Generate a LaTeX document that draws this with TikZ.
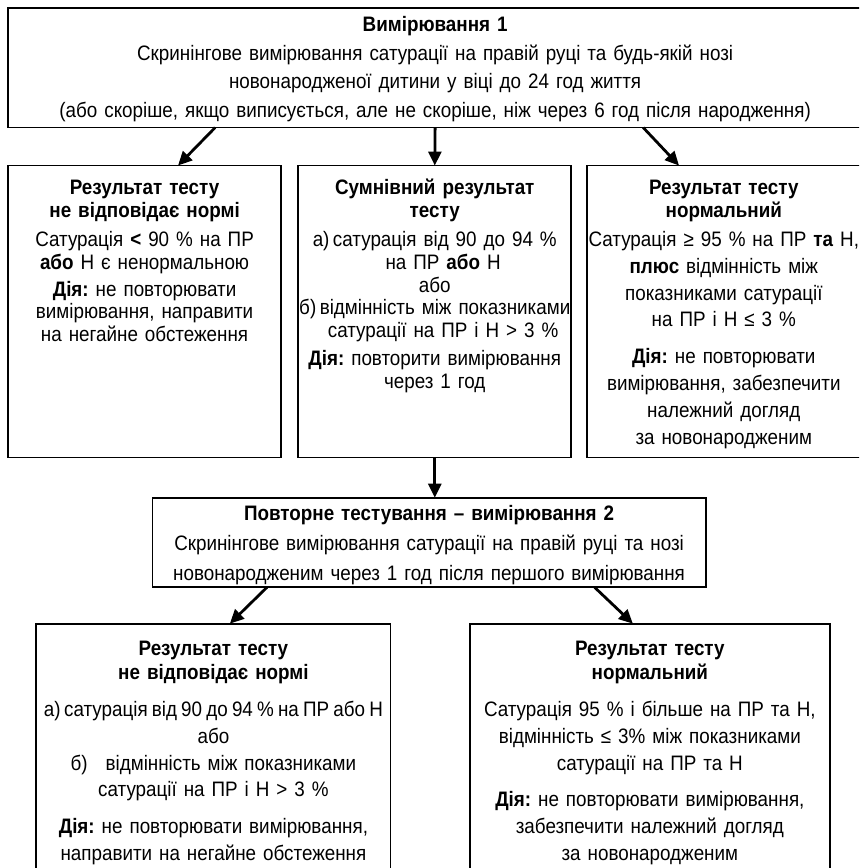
\documentclass[tikz,border=0pt]{standalone}
\usepackage{fontspec}
\setmainfont[FakeStretch=0.90]{Liberation Sans}
\frenchspacing
\usetikzlibrary{arrows.meta, positioning, calc}

\begin{document}
\begin{tikzpicture}[>={Triangle[length=7pt,width=6.5pt]},
    panel/.style={draw, line width=0.9pt, align=center, inner xsep=-5pt, inner ysep=0pt, outer sep=0pt},
    widebox/.style={panel, text width=15.42cm, text height=12pt, text depth=48pt,
                    font=\fontsize{10.5}{14.25}\selectfont},
    rowbox/.style={panel, text width=5.17cm, text height=14.5pt, text depth=132pt,
                   font=\fontsize{10.5}{11.5}\selectfont},
    midbox/.style={panel, text width=10.11cm, text height=11.5pt, text depth=33.5pt,
                   font=\fontsize{10.5}{15}\selectfont},
    lowbox/.style={panel, text height=16pt, text depth=125pt,
                   font=\fontsize{10.5}{13.5}\selectfont},
    link/.style={->, line width=1.4pt}]
  \useasboundingbox (0,0) rectangle (15.152,-15.311);
  \clip (0,0) rectangle (15.152,-15.311);

  % First measurement
  \node[widebox, anchor=north west] (meas1) at (0.141,-0.141)
    {\textbf{Вимірювання 1}\\
     Скринінгове вимірювання сатурації на правій руці та будь-якій нозі\\
     новонародженої дитини у віці до 24 год життя\\
     (або скоріше, якщо виписується, але не скоріше, ніж через 6 год після народження)};

  % Three outcomes
  \node[rowbox, below right=0.67cm and 0cm of meas1.south west] (resA)
    {\textbf{Результат тесту}\\
     \textbf{не відповідає нормі}\\[3pt]
     Сатурація \textbf{<} 90 \% на ПР\\
     \textbf{або} Н є ненормальною\\[2pt]
     \textbf{Дія:} не повторювати\\
     вимірювання, направити\\
     на негайне обстеження};
  \node[rowbox, right=0.3cm of resA] (resB)
    {\textbf{Сумнівний результат}\\
     \textbf{тесту}\\[3pt]
     а)\,сатурація від 90 до 94 \%\\
     \hspace*{0.8em}на ПР \textbf{або} Н\\
     або\\
     б)\,відмінність між показниками\\
     \hspace*{0.8em}сатурації на ПР і Н > 3 \%\\[2.5pt]
     \textbf{Дія:} повторити вимірювання\\
     через 1 год};
  \node[rowbox, right=0.28cm of resB, font=\fontsize{10.5}{13.5}\selectfont] (resC)
    {\textbf{Результат тесту}\\[-2pt]
     \textbf{нормальний}\\[1pt]
     Сатурація ≥ 95 \% на ПР \textbf{та} Н,\\
     \textbf{плюс} відмінність між\\
     показниками сатурації\\
     на ПР і Н ≤ 3 \%\\[5pt]
     \textbf{Дія:} не повторювати\\
     вимірювання, забезпечити\\
     належний догляд\\
     за новонародженим};

  % Second measurement
  \node[midbox, below=0.71cm of resB, xshift=-0.1cm] (meas2)
    {\textbf{Повторне тестування – вимірювання 2}\\
     Скринінгове вимірювання сатурації на правій руці та нозі\\
     новонародженим через 1 год після першого вимірювання};

  % Two outcomes
  \node[lowbox, text width=6.60cm, below left=0.64cm and 0.68cm of meas2.south] (resE)
    {\textbf{Результат тесту}\\[-1.5pt]
     \textbf{не відповідає нормі}\\[5pt]
     {\spaceskip=0.8\fontdimen2\font а)\,сатурація від 90 до 94 \% на ПР або Н}\\
     або\\
     б)\hspace{9pt}відмінність між показниками\\
     сатурації на ПР і Н > 3 \%\\[5pt]
     \textbf{Дія:} не повторювати вимірювання,\\
     направити на негайне обстеження};
  \node[lowbox, text width=6.70cm, below right=0.64cm and 0.72cm of meas2.south] (resF)
    {\textbf{Результат тесту}\\[-1.5pt]
     \textbf{нормальний}\\[5pt]
     Сатурація 95 \% і більше на ПР та Н,\\
     відмінність ≤ 3\% між показниками\\
     сатурації на ПР та Н\\[5pt]
     \textbf{Дія:} не повторювати вимірювання,\\
     забезпечити належний догляд\\
     за новонародженим};

  % Arrows
  \draw[link] ($(meas1.south)+(-3.88,0)$) -- ($(resA.north)+(0.59,0)$);
  \draw[link] (meas1.south) -- (resB.north);
  \draw[link] ($(meas1.south)+(3.67,0)$) -- ($(resC.north)+(-0.79,0)$);
  \draw[link] (resB.south) -- (resB.south |- meas2.north);
  \draw[link] ($(meas2.south)+(-2.86,0)$) -- ($(resE.north)+(0.29,0)$);
  \draw[link] ($(meas2.south)+(2.92,0)$) -- ($(resF.north)+(-0.3,0)$);
\end{tikzpicture}
\end{document}
